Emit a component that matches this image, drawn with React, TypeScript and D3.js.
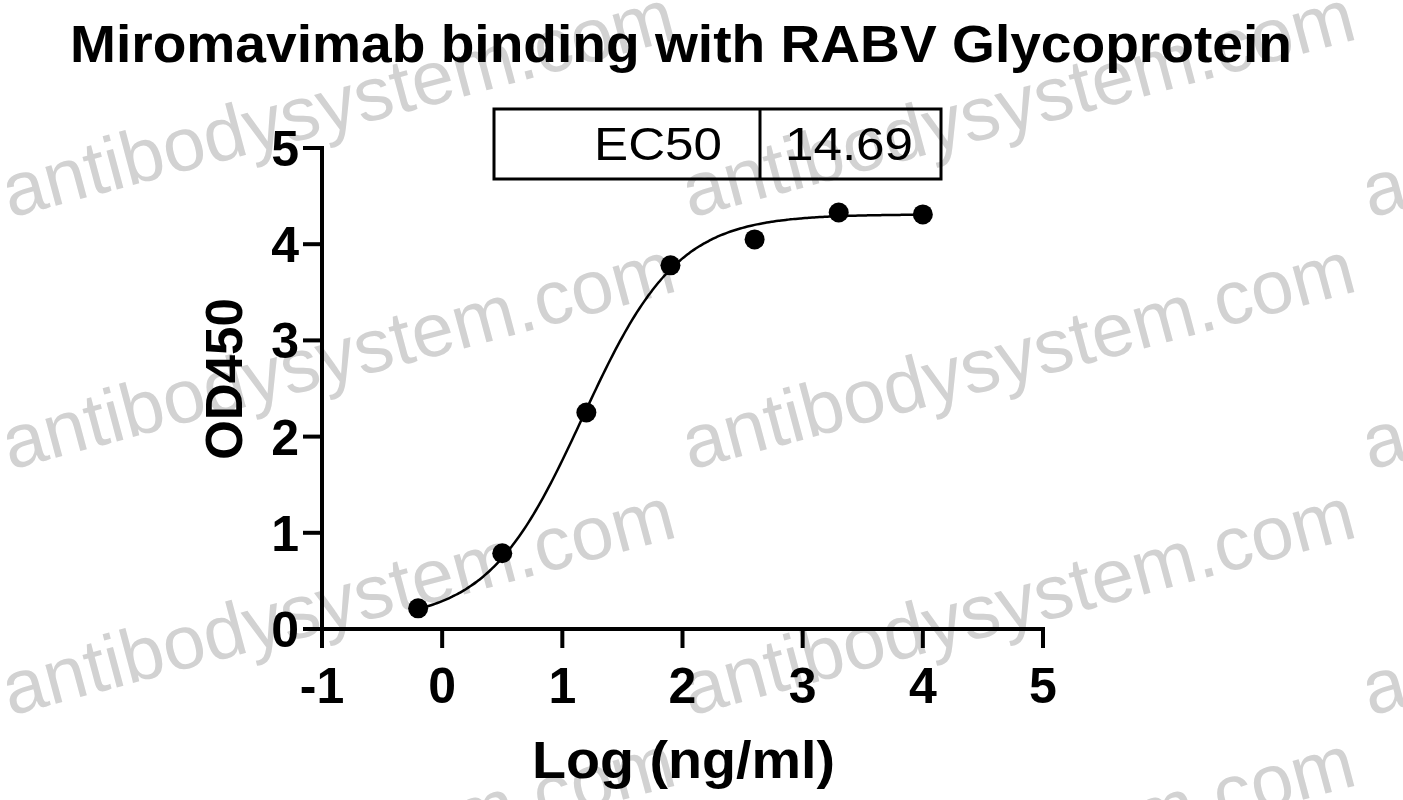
import React from "react";
import * as d3 from "d3";

// ---- data ----
const logConc: number[] = [-0.2, 0.5, 1.2, 1.9, 2.6, 3.3, 4.0];
const od450: number[] = [0.215, 0.787, 2.25, 3.78, 4.05, 4.33, 4.31];
const xTicks: number[] = [-1, 0, 1, 2, 3, 4, 5];
const yTicks: number[] = [0, 1, 2, 3, 4, 5];
const ec50Label = "EC50";
const ec50Value = "14.69";
// 4PL fit parameters
const fitBottom = 0.08;
const fitTop = 4.31;
const fitLogEC50 = Math.log10(14.69);
const fitHill = 1.1;

const title = "Miromavimab binding with RABV Glycoprotein";
const xLabel = "Log (ng/ml)";
const yLabel = "OD450";
const watermark = "antibodysystem.com";

const W = 1403;
const H = 800;
const FONT = "'Liberation Sans', Arial, Helvetica, sans-serif";

export default function App() {
  const x = d3.scaleLinear().domain([-1, 5]).range([322, 1043]);
  const y = d3.scaleLinear().domain([0, 5]).range([629, 148]);

  const fourPL = (lx: number) =>
    fitBottom + (fitTop - fitBottom) / (1 + Math.pow(10, (fitLogEC50 - lx) * fitHill));
  const xs = d3.range(logConc[0], logConc[logConc.length - 1] + 0.0001, 0.02);
  const line = d3
    .line<number>()
    .x((d) => x(d))
    .y((d) => y(fourPL(d)))
    .curve(d3.curveBasis);

  const wmX = [10, 690, 1370];
  const wmY = [218, 470, 716, 964];

  return (
    <svg
      width={W}
      height={H}
      style={{ position: "absolute", left: 0, top: 0, background: "#fff" }}
      fontFamily={FONT}
    >
      <rect x={0} y={0} width={W} height={H} fill="#fff" />
      {/* watermark */}
      <g fill="#d2d2d2" fontSize={76}>
        {wmY.map((wy) =>
          wmX.map((wx) => (
            <text key={`${wx}-${wy}`} transform={`translate(${wx},${wy}) rotate(-15)`}>
              {watermark}
            </text>
          ))
        )}
      </g>

      {/* title */}
      <text
        x={70}
        y={62}
        fontSize={51}
        fontWeight="bold"
        textLength={1222}
        lengthAdjust="spacingAndGlyphs"
      >
        {title}
      </text>

      {/* EC50 box */}
      <g>
        <rect x={494} y={109} width={447} height={70} fill="none" stroke="#000" strokeWidth={3} />
        <line x1={760} x2={760} y1={109} y2={179} stroke="#000" strokeWidth={3} />
        <text x={594} y={160} fontSize={46} textLength={128} lengthAdjust="spacingAndGlyphs">
          {ec50Label}
        </text>
        <text x={785} y={160} fontSize={46} textLength={128} lengthAdjust="spacingAndGlyphs">
          {ec50Value}
        </text>
      </g>

      {/* axes */}
      <g stroke="#000" strokeWidth={4}>
        <line x1={x(-1)} x2={x(-1)} y1={y(5) - 2} y2={y(0) + 19} />
        <line x1={x(-1) - 2} x2={x(5) + 2} y1={y(0)} y2={y(0)} />
        {yTicks.map((t) => (
          <line key={`yt${t}`} x1={x(-1) - 19} x2={x(-1)} y1={y(t)} y2={y(t)} />
        ))}
        {xTicks.map((t) => (
          <line key={`xt${t}`} x1={x(t)} x2={x(t)} y1={y(0)} y2={y(0) + 19} />
        ))}
      </g>
      <g fontSize={50} fontWeight="bold" fill="#000">
        {yTicks.map((t) => (
          <text key={`yl${t}`} x={x(-1) - 23} y={y(t)} dy="0.36em" textAnchor="end">
            {t}
          </text>
        ))}
        {xTicks.map((t) => (
          <text key={`xl${t}`} x={x(t)} y={703} textAnchor="middle">
            {t}
          </text>
        ))}
      </g>

      {/* axis titles */}
      <text
        x={532}
        y={778}
        fontSize={51}
        fontWeight="bold"
        textLength={303}
        lengthAdjust="spacingAndGlyphs"
      >
        {xLabel}
      </text>
      <text
        transform={`translate(242,379) rotate(-90)`}
        fontSize={51}
        fontWeight="bold"
        textAnchor="middle"
      >
        {yLabel}
      </text>

      {/* fit curve */}
      <path d={line(xs) || ""} fill="none" stroke="#000" strokeWidth={2.5} />
      {/* points */}
      {logConc.map((c, i) => (
        <circle key={`p${i}`} cx={x(c)} cy={y(od450[i])} r={10} fill="#000" />
      ))}
    </svg>
  );
}
